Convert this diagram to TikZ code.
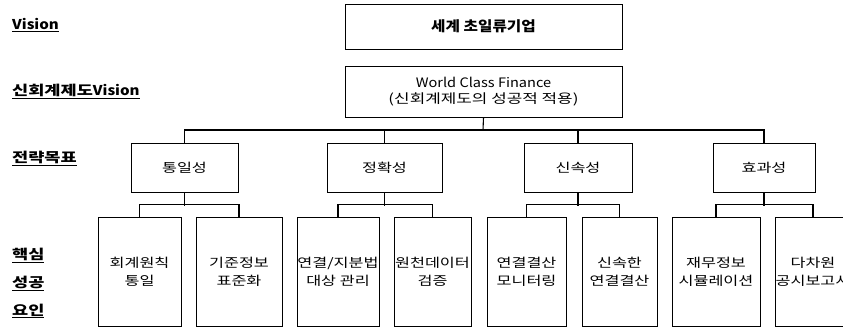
\documentclass[tikz,border=0pt]{standalone}
\usepackage{fontspec}
\setmainfont[FakeStretch=1.3]{Noto Sans CJK KR}
\newfontfamily\lat[FakeStretch=1.12]{Noto Sans CJK KR}
\usetikzlibrary{calc}
\tikzset{
  box/.style={draw, line width=1pt, inner sep=0pt, align=center,
    font=\fontsize{12.5}{18}\selectfont},
  lbl/.style={anchor=west, inner sep=0pt, font=\fontsize{13.5}{16}\selectfont\bfseries},
  conn/.style={line width=1.1pt},
}
\begin{document}
\begin{tikzpicture}[x=1pt,y=-1pt]
\useasboundingbox (0,0) rectangle (843,327);
\clip (0,0) rectangle (843,327);
% left labels
\node[lbl] (l1) at (12,25) {\underline{\lat Vision}};
\node[lbl] (l2) at (12,91) {\underline{신회계제도{\lat Vision}}};
\node[lbl] (l3) at (12,158) {\underline{전략목표}};
\node[lbl] (l4) at (12,255) {\underline{핵심}};
\node[lbl] (l5) at (12,283) {\underline{성공}};
\node[lbl] (l6) at (12,311) {\underline{요인}};
% top boxes
\node[box, minimum width=277pt, minimum height=45pt, font=\fontsize{14}{16}\selectfont\bfseries\lat] (v1) at (483.5,26.5) {세계 초일류기업};
\node[box, minimum width=277pt, minimum height=51pt, font=\fontsize{13}{16}\selectfont] (v2) at (483.5,91.5) {{\lat World Class Finance}\\(신회계제도의 성공적 적용)};
% strategic goals
\node[box, minimum width=107pt, minimum height=49pt] (g1) at (184.5,167.5) {통일성};
\node[box, minimum width=115pt, minimum height=49pt] (g2) at (384.5,167.5) {정확성};
\node[box, minimum width=108pt, minimum height=49pt] (g3) at (578,167.5) {신속성};
\node[box, minimum width=102pt, minimum height=49pt] (g4) at (764,167.5) {효과성};
% key success factors
\node[box, minimum width=83pt, minimum height=109.5pt] (c1) at (139.5,271.75) {회계원칙\\통일};
\node[box, minimum width=86pt, minimum height=109.5pt] (c2) at (239,271.75) {기준정보\\표준화};
\node[box, minimum width=82pt, minimum height=109.5pt] (c3) at (338,271.75) {연결/지분법\\대상 관리};
\node[box, minimum width=77pt, minimum height=109.5pt] (c4) at (432.5,271.75) {원천데이터\\검증};
\node[box, minimum width=79pt, minimum height=109.5pt] (c5) at (526.5,271.75) {연결결산\\모니터링};
\node[box, minimum width=75pt, minimum height=109.5pt] (c6) at (619.5,271.75) {신속한\\연결결산};
\node[box, minimum width=88pt, minimum height=109.5pt] (c7) at (716,271.75) {재무정보\\시뮬레이션};
\node[box, minimum width=74pt, minimum height=109.5pt] (c8) at (813,271.75) {다차원\\공시보고서};
% connectors
\coordinate (bar) at (483,130);
\draw[conn] (v2.south) -- (bar);
\draw[conn] (g1.north) -- (g1.north |- bar) -- (g4.north |- bar) -- (g4.north);
\draw[conn] (g2.north) -- (g2.north |- bar);
\draw[conn] (g3.north) -- (g3.north |- bar);
\foreach \p/\a/\b in {g1/c1/c2, g2/c3/c4, g3/c5/c6, g4/c7/c8}{
  \draw[conn] (\p.south) -- ($(\p.south)+(0,13)$);
  \draw[conn] (\a.north) -- ++(0,-12) -| (\b.north);
}
\end{tikzpicture}
\end{document}
